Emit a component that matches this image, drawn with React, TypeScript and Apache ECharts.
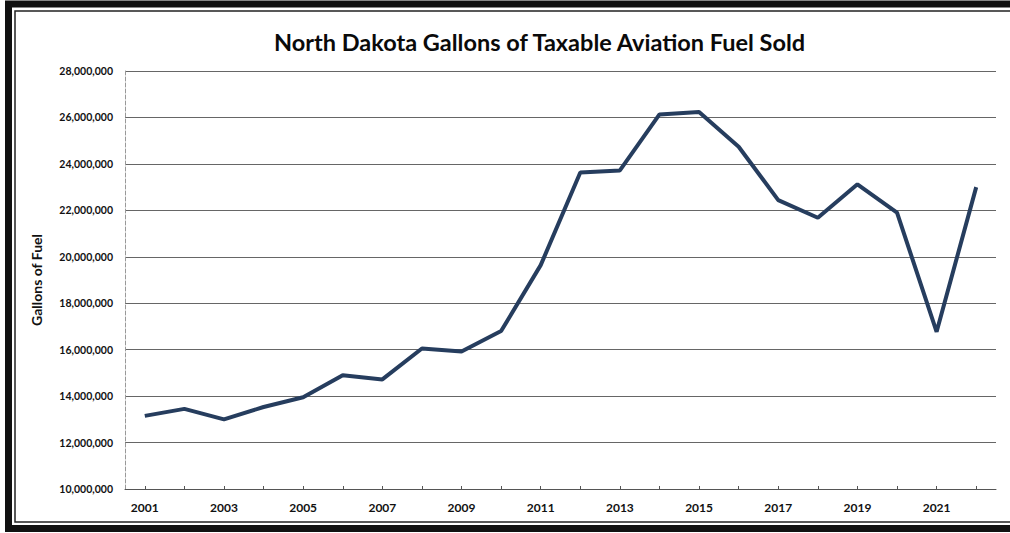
import React, { useEffect, useRef } from "react";
import * as echarts from "echarts";

const years = ["2001","2002","2003","2004","2005","2006","2007","2008","2009","2010","2011","2012","2013","2014","2015","2016","2017","2018","2019","2020","2021","2022"];
const gallons = [13150000,13450000,13000000,13530000,13950000,14900000,14720000,16050000,15920000,16800000,19640000,23630000,23720000,26130000,26230000,24740000,22440000,21680000,23120000,21900000,16770000,23000000];
const yMin = 10000000;
const yMax = 28000000;
const yStep = 2000000;

export default function App() {
  const ref = useRef<HTMLDivElement>(null);
  useEffect(() => {
    if (!ref.current) return;
    const chart = echarts.init(ref.current, null, { renderer: "svg" });
    chart.setOption({
      animation: false,
      backgroundColor: "#ffffff",
      title: {
        text: "North Dakota Gallons of Taxable Aviation Fuel Sold",
        left: 269,
        top: 25,
        textStyle: { fontFamily: "Lato", fontWeight: "bold", fontSize: 23.5, color: "#0a0a0a" },
      },
      graphic: [
        { type: "rect", shape: { x: 8.5, y: 4, width: 1010, height: 524.5 }, style: { fill: "none", stroke: "#111", lineWidth: 7 }, silent: true },
        { type: "rect", shape: { x: 15, y: 11, width: 1010, height: 511 }, style: { fill: "none", stroke: "#222", lineWidth: 1.5 }, silent: true },
      ],
      grid: { left: 125, right: 14, top: 71, bottom: 44 },
      xAxis: {
        type: "category",
        data: years,
        boundaryGap: true,
        axisLine: { lineStyle: { color: "#555", width: 1 } },
        axisTick: { show: true, inside: true, length: 3, alignWithLabel: true, interval: 0, lineStyle: { color: "#555" } },
        axisLabel: { interval: 1, margin: 12, fontFamily: "Lato", fontWeight: "bold", fontSize: 12, color: "#111" },
      },
      yAxis: {
        type: "value",
        min: yMin,
        max: yMax,
        interval: yStep,
        name: "Gallons of Fuel",
        nameLocation: "middle",
        nameGap: 82,
        nameTextStyle: { fontFamily: "Lato", fontWeight: "bold", fontSize: 14, color: "#111" },
        axisLine: { show: true, lineStyle: { color: "#999", width: 1, type: "dashed" } },
        axisTick: { show: false },
        splitLine: { lineStyle: { color: "#666", width: 1 } },
        axisLabel: {
          margin: 12,
          fontFamily: "Lato",
          fontWeight: "bold",
          fontSize: 10.5,
          color: "#111",
          formatter: (v: number) => v.toLocaleString("en-US"),
        },
      },
      series: [
        {
          type: "line",
          data: gallons,
          symbol: "none",
          lineStyle: { color: "#263d5e", width: 4 },
        },
      ],
    });
    return () => chart.dispose();
  }, []);
  return <div ref={ref} style={{ width: 1010, height: 533, position: "absolute", left: 0, top: 0 }} />;
}
